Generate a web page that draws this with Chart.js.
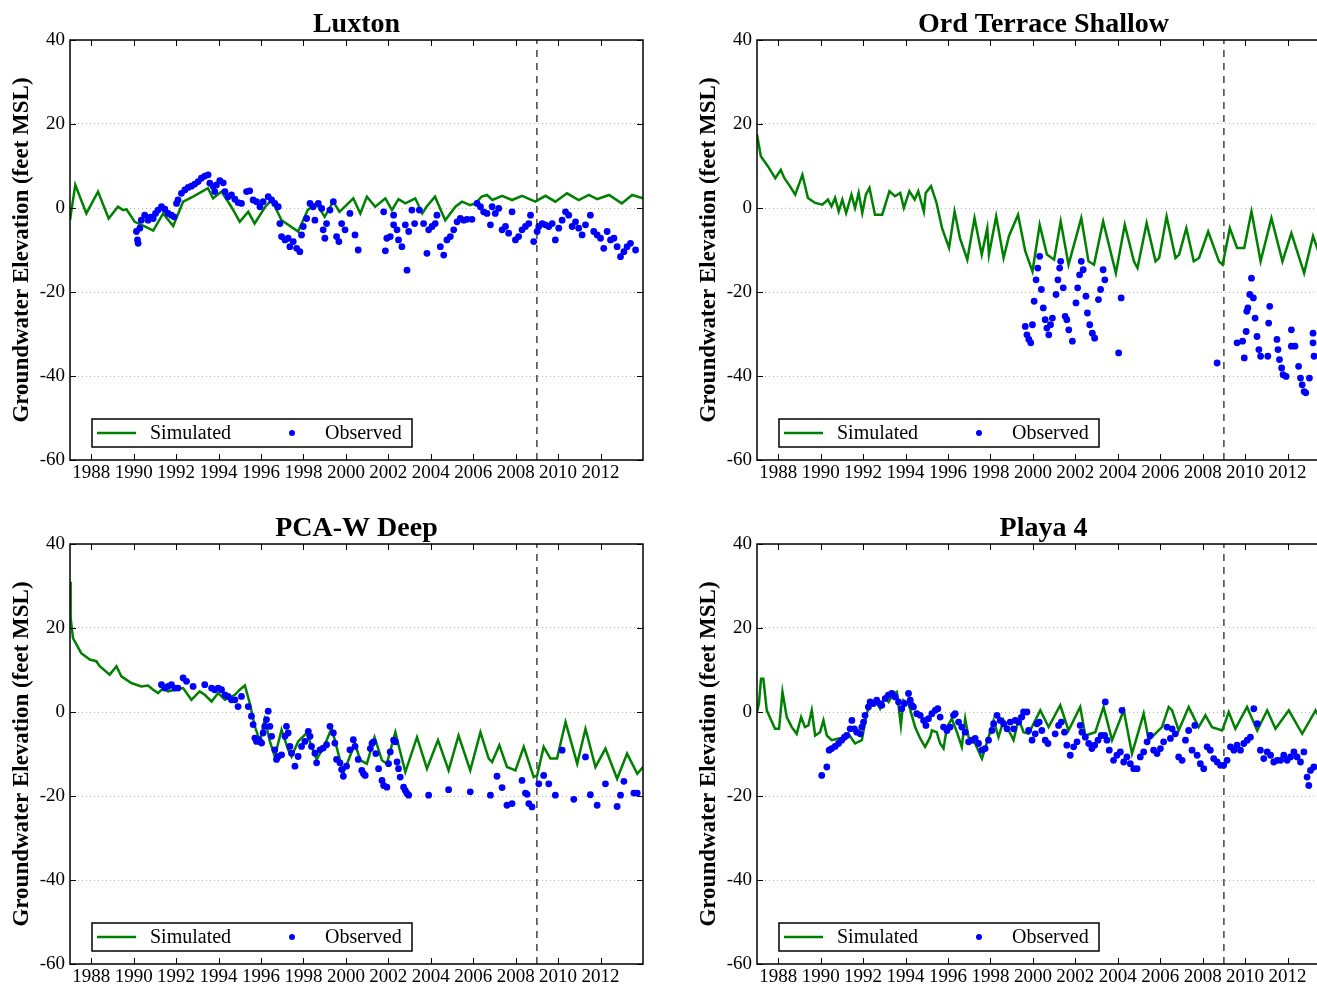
<!DOCTYPE html>
<html>
<head>
<meta charset="utf-8">
<title>Groundwater Elevation - Simulated vs Observed</title>
<script src="https://cdn.jsdelivr.net/npm/chart.js@4.4.1/dist/chart.umd.min.js"></script>
<style>
  html, body { margin: 0; padding: 0; background: #fff; overflow: hidden; }
  body { width: 1317px; height: 987px; position: relative; }
  canvas { position: absolute; }
  #chart-luxton { left: 0; top: 0; }
  #chart-ord { left: 687px; top: 0; }
  #chart-pca { left: 0; top: 504px; }
  #chart-playa { left: 687px; top: 504px; }
</style>
</head>
<body>
<canvas id="chart-luxton" width="660" height="490"></canvas>
<canvas id="chart-ord" width="660" height="490"></canvas>
<canvas id="chart-pca" width="660" height="490"></canvas>
<canvas id="chart-playa" width="660" height="490"></canvas>
<script>
// axes
const xTickLabels = [1988, 1990, 1992, 1994, 1996, 1998, 2000, 2002, 2004, 2006, 2008, 2010, 2012];
const yTickValues = [-60, -40, -20, 0, 20, 40];
const xRange = [1987, 2014];
const yRange = [-60, 40];
const predictionStartYear = 2009;
const yAxisTitle = 'Groundwater Elevation (feet MSL)';
const seriesNames = ['Simulated', 'Observed'];
const panelTitles = ['Luxton', 'Ord Terrace Shallow', 'PCA-W Deep', 'Playa 4'];

// Luxton
const luxtonSimYears = [
  1987.0, 1987.25, 1987.77, 1988.32, 1988.82, 1989.26, 1989.5, 1989.66,
  1990.05, 1990.52, 1990.92, 1991.39, 1991.86, 1992.33, 1992.8, 1993.5,
  1993.74, 1994.14, 1994.6, 1995.0, 1995.4, 1995.7, 1996.2, 1996.5,
  1996.97, 1997.75, 1998.2, 1998.6, 1999.0, 1999.4, 1999.7, 2000.35,
  2000.68, 2000.99, 2001.38, 2001.86, 2002.17, 2002.48, 2002.8, 2003.27,
  2003.6, 2003.8, 2004.2, 2004.68, 2005.16, 2005.47, 2005.86, 2006.1,
  2006.4, 2006.65, 2006.9, 2007.36, 2007.83, 2008.3, 2008.93, 2009.4,
  2009.87, 2010.42, 2010.97, 2011.45, 2011.84, 2012.4, 2013.0, 2013.49, 2014.0
];
const luxtonSimValues = [
  -2.9, 5.5, -1.3, 3.9, -2.5, 0.3, -0.5, -0.3,
  -3.3, -4.4, -5.4, -1.3, -4.3, 1.5, 2.7, 4.7,
  2.3, 3.9, 0.3, -3.3, -0.9, -3.7, 0.3, 1.9,
  -2.9, -5.6, -0.5, 1.1, -2.1, 1.5, -0.9, 2.3,
  -1.3, 2.7, 0.3, 2.3, -0.5, 2.1, 1.1, 2.3,
  -1.3, 0.3, 2.7, -2.9, 0.3, 1.5, 0.7, 1.1,
  2.7, 3.1, 1.9, 2.9, 1.9, 2.9, 1.5, 2.9,
  1.5, 3.5, 1.9, 3.1, 2.1, 3.1, 1.1, 3.1, 2.3
];
const luxtonObsYears = [
  1990.13, 1990.21, 1990.18, 1990.29, 1990.36, 1990.52, 1990.68, 1990.8,
  1990.92, 1991.03, 1991.15, 1991.31, 1991.47, 1991.62, 1991.78, 1991.9,
  1992.02, 1992.09, 1992.25, 1992.41, 1992.57, 1992.72, 1992.88, 1993.04,
  1993.19, 1993.35, 1993.51, 1993.59, 1993.75, 1993.82, 1993.9, 1994.06,
  1994.22, 1994.3, 1994.45, 1994.61, 1994.77, 1994.92, 1995.08, 1995.32,
  1995.47, 1995.63, 1995.79, 1995.95, 1996.1, 1996.34, 1996.5, 1996.65,
  1996.81, 1996.89, 1996.97, 1997.13, 1997.28, 1997.36, 1997.52, 1997.68,
  1997.83, 1997.91, 1997.99, 1998.15, 1998.31, 1998.46, 1998.54, 1998.7,
  1998.86, 1998.93, 1999.01, 1999.09, 1999.25, 1999.41, 1999.56, 1999.67,
  1999.8, 1999.96, 2000.19, 2000.43, 2000.58,
  2001.78, 2001.86, 2001.93, 2002.09, 2002.25, 2002.25, 2002.41, 2002.48,
  2002.64, 2002.8, 2002.88, 2002.96, 2003.11, 2003.24, 2003.46, 2003.66,
  2003.82, 2003.9, 2004.06, 2004.21, 2004.29, 2004.45, 2004.61, 2004.76,
  2004.92, 2005.08, 2005.24, 2005.39, 2005.55, 2005.71, 2005.94, 2006.18,
  2006.34, 2006.49, 2006.65, 2006.81, 2006.89, 2007.04, 2007.2, 2007.36,
  2007.52, 2007.67, 2007.83, 2007.99, 2008.14, 2008.3, 2008.46, 2008.62,
  2008.7, 2008.85, 2009.01, 2009.09, 2009.25, 2009.4, 2009.56, 2009.72,
  2009.87, 2010.03, 2010.19, 2010.35, 2010.5, 2010.66, 2010.82, 2010.97,
  2011.13, 2011.29, 2011.52, 2011.68, 2011.84, 2012.0, 2012.15, 2012.31,
  2012.47, 2012.63, 2012.78, 2012.94, 2013.1, 2013.25, 2013.41, 2013.65
];
const luxtonObsValues = [
  -5.6, -8.4, -7.6, -4.8, -2.9, -1.7, -2.9, -2.2,
  -2.5, -1.3, -0.5, 0.3, -0.3, -1.3, -1.7, -2.1,
  1.1, 1.9, 3.5, 4.3, 4.9, 5.2, 5.7, 6.3,
  7.1, 7.6, 7.9, 5.9, 5.1, 3.9, 5.5, 6.5,
  6.0, 3.9, 2.7, 3.1, 2.1, 1.3, 1.1, 3.9,
  4.1, 1.9, 1.5, 0.3, 1.5, 2.7, 1.9, 1.1,
  0.3, -3.7, -6.8, -7.6, -7.2, -9.2, -8.0, -9.6,
  -10.4, -6.4, -4.4, -2.5, 1.1, 0.3, -2.9, 1.1,
  -0.1, -5.2, -7.2, -3.7, -0.5, 1.5, -6.8, -8.0,
  -3.7, -5.2, -1.3, -6.4, -10.0,
  -0.9, -10.2, -7.2, -6.8, -1.7, -4.0, -5.2, -7.6,
  -9.2, -4.0, -14.8, -5.6, -0.5, -3.7, -0.5, -3.7,
  -10.8, -5.2, -4.4, -3.7, -1.7, -9.2, -11.2, -7.6,
  -6.8, -5.2, -3.3, -2.5, -2.9, -2.7, -2.7, 1.1,
  0.3, -0.9, -1.3, -4.0, 0.3, -1.3, -0.1, -5.2,
  -4.4, -6.0, -0.9, -7.6, -6.8, -5.2, -4.4, -3.7,
  -1.7, -8.0, -5.6, -4.4, -3.7, -4.0, -4.4, -3.7,
  -7.6, -4.8, -2.9, -0.9, -1.7, -4.4, -3.3, -4.8,
  -6.4, -4.0, -1.7, -5.6, -6.4, -7.2, -9.6, -5.6,
  -7.6, -7.2, -9.2, -11.6, -10.4, -9.2, -8.4, -10.0
];

// Ord Terrace Shallow
const ordSimYears = [
  1987.0, 1987.18, 1987.52, 1987.86, 1988.12, 1988.29, 1988.55, 1988.8,
  1989.14, 1989.4, 1989.74, 1990.08, 1990.34, 1990.51, 1990.68, 1990.85,
  1991.02, 1991.2, 1991.45, 1991.62, 1991.79, 1991.96, 1992.13, 1992.3,
  1992.56, 1992.9, 1993.24, 1993.5, 1993.75, 1993.92, 1994.18, 1994.43,
  1994.6, 1994.86, 1994.95, 1995.2, 1995.46, 1995.72, 1996.05, 1996.31,
  1996.56, 1996.91, 1997.25, 1997.59, 1997.85, 1997.93, 1998.27, 1998.62,
  1998.87, 1999.3, 1999.64, 1999.98, 2000.32, 2000.66, 2001.0, 2001.31,
  2001.68, 2002.28, 2002.62, 2002.88, 2003.31, 2003.91, 2004.33, 2004.76,
  2004.93, 2005.36, 2005.78, 2005.95, 2006.3, 2006.72, 2006.89, 2007.23,
  2007.58, 2007.83, 2008.26, 2008.77, 2008.94, 2009.28, 2009.62, 2009.96,
  2010.3, 2010.73, 2011.24, 2011.76, 2012.18, 2012.78, 2013.2, 2013.6, 2014.0
];
const ordSimValues = [
  17.5, 12.3, 9.9, 7.1, 9.1, 7.1, 5.2, 3.2,
  7.9, 2.4, 1.2, 0.8, 2.0, 0.4, 2.4, -0.8,
  2.0, -1.2, 3.2, 0.0, 3.6, -1.2, 3.2, 4.8,
  -1.6, -1.6, 4.0, 2.8, 3.6, 0.0, 4.0, 2.0,
  4.0, -0.8, 3.6, 5.2, 1.2, -4.8, -9.5, -0.8,
  -7.1, -12.3, -2.4, -11.1, -4.8, -11.1, -2.0, -11.9,
  -6.7, -1.6, -10.3, -15.1, -4.0, -11.1, -12.3, -3.2,
  -13.5, -2.4, -12.7, -13.5, -3.2, -15.5, -4.0, -12.7,
  -14.3, -3.6, -12.7, -11.9, -2.0, -11.9, -11.1, -4.8,
  -12.7, -11.9, -5.6, -12.7, -13.5, -4.8, -9.5, -9.5,
  -0.8, -12.7, -2.4, -12.7, -6.0, -15.5, -6.7, -12.5, -9.0
];
const ordObsYears = [
  1999.64, 1999.72, 1999.81, 1999.9, 1999.98, 2000.06, 2000.15, 2000.23,
  2000.32, 2000.4, 2000.49, 2000.58, 2000.66, 2000.75, 2000.83, 2000.92,
  2001.09, 2001.18, 2001.26, 2001.31, 2001.43, 2001.52, 2001.6, 2001.69,
  2001.86, 2002.03, 2002.11, 2002.2, 2002.28, 2002.37, 2002.5, 2002.57,
  2002.68, 2002.8, 2002.91, 2003.09, 2003.19, 2003.31, 2003.39, 2004.04,
  2004.16,
  2008.68, 2009.62, 2009.88, 2009.96, 2010.05, 2010.08, 2010.13, 2010.22,
  2010.3, 2010.39, 2010.47, 2010.56, 2010.65, 2010.73, 2011.07, 2011.11,
  2011.16, 2011.5, 2011.55, 2011.62, 2011.72, 2011.79, 2011.93, 2012.18,
  2012.18, 2012.35, 2012.52, 2012.61, 2012.69, 2012.78, 2012.86, 2013.03,
  2013.2, 2013.2, 2013.25
];
const ordObsValues = [
  -28.2, -30.2, -31.3, -32.1, -27.8, -22.2, -17.1, -14.3,
  -11.5, -19.4, -23.8, -26.6, -28.6, -30.2, -27.8, -26.2,
  -20.6, -17.1, -14.3, -12.7, -19.0, -25.8, -26.6, -29.0,
  -31.7, -22.6, -19.0, -15.9, -12.7, -14.7, -21.0, -25.0,
  -27.8, -29.8, -31.0, -21.8, -19.4, -14.7, -17.1, -34.5,
  -21.4,
  -36.9, -32.1, -31.7, -35.7, -29.4, -24.6, -23.8, -20.6,
  -16.7, -21.4, -26.2, -30.6, -33.7, -35.3, -35.3, -27.4,
  -23.4, -31.3, -33.7, -36.1, -38.1, -39.7, -40.1, -29.0,
  -32.9, -32.9, -37.7, -40.5, -42.1, -43.7, -44.0, -40.5,
  -29.8, -32.1, -35.3
];

// PCA-W Deep
const pcaSimYears = [
  1987.0, 1987.03, 1987.14, 1987.53, 1987.93, 1988.24, 1988.4, 1988.87,
  1989.19, 1989.42, 1989.89, 1990.36, 1990.68, 1990.92, 1991.15, 1991.39,
  1991.62, 1991.94, 1992.33, 1992.72, 1993.11, 1993.35, 1993.67, 1993.98,
  1994.3, 1994.77, 1995.0, 1995.24, 1995.47, 1995.71, 1995.95, 1996.18,
  1996.42, 1996.65, 1996.97, 1997.28, 1997.44, 1997.75, 1998.15, 1998.62,
  1999.01, 1999.33, 1999.88, 2000.43, 2000.68, 2000.99, 2001.35, 2001.7,
  2001.93, 2002.33, 2002.8, 2003.35, 2003.82, 2004.34, 2004.84, 2005.31,
  2005.86, 2006.34, 2006.73, 2006.89, 2007.23, 2007.59, 2007.99, 2008.38,
  2008.85, 2009.01, 2009.32, 2009.64, 2009.95, 2010.35, 2010.9, 2011.29,
  2011.76, 2012.23, 2012.78, 2013.25, 2013.73, 2014.0
];
const pcaSimValues = [
  31.0, 22.4, 17.6, 14.0, 12.5, 12.1, 10.9, 8.9,
  10.9, 8.5, 6.9, 6.1, 6.3, 5.3, 4.5, 5.7,
  4.9, 5.3, 5.7, 2.9, 4.9, 4.1, 2.5, 4.5,
  2.9, 4.1, 5.3, 6.3, 2.1, -3.4, -7.0, -1.8,
  -7.0, -10.6, -4.2, -9.0, -10.6, -7.0, -5.0, -11.3,
  -7.8, -3.8, -14.5, -7.5, -11.5, -12.3, -6.0, -11.5,
  -12.3, -4.8, -14.3, -6.0, -13.5, -6.7, -13.9, -5.6,
  -13.9, -4.8, -11.1, -11.9, -7.9, -13.1, -13.9, -8.3,
  -15.5, -15.1, -8.3, -11.1, -11.1, -2.4, -12.3, -4.0,
  -13.1, -8.7, -15.9, -9.9, -14.7, -13.1
];
const pcaObsYears = [
  1991.31, 1991.47, 1991.62, 1991.78, 1991.94, 1992.09, 1992.33, 1992.49,
  1992.8, 1993.35, 1993.67, 1993.82, 1993.98, 1994.14, 1994.3, 1994.45,
  1994.61, 1994.77, 1994.92, 1995.08, 1995.4, 1995.55, 1995.63, 1995.71,
  1995.79, 1995.87, 1995.95, 1996.03, 1996.1, 1996.18, 1996.26, 1996.34,
  1996.42, 1996.5, 1996.65, 1996.73, 1996.81, 1996.97, 1997.13, 1997.2,
  1997.28, 1997.36, 1997.44, 1997.6, 1997.75, 1997.91, 1998.07, 1998.23,
  1998.31, 1998.38, 1998.54, 1998.62, 1998.78, 1998.93, 1999.09, 1999.25,
  1999.41, 1999.48, 1999.56, 1999.72, 1999.8, 1999.88, 2000.03, 2000.19,
  2000.35, 2000.43, 2000.58,
  2000.75, 2000.83, 2000.91, 2001.15, 2001.23, 2001.3, 2001.41, 2001.54,
  2001.7, 2001.78, 2001.93, 2002.01, 2002.09, 2002.25, 2002.33, 2002.41,
  2002.48, 2002.56, 2002.72, 2002.8, 2002.88, 2002.96, 2003.9, 2004.84,
  2005.86, 2006.81, 2007.12, 2007.36, 2007.59, 2007.83, 2008.3, 2008.46,
  2008.54, 2008.62, 2008.77, 2009.09, 2009.32, 2009.56, 2009.87, 2010.19,
  2010.74, 2011.29, 2011.52, 2011.84, 2012.23, 2012.78, 2012.94, 2013.1,
  2013.57, 2013.73
];
const pcaObsValues = [
  6.5, 5.7, 6.1, 6.5, 5.7, 5.7, 8.1, 7.3,
  6.1, 6.5, 5.7, 5.3, 5.7, 5.3, 4.1, 3.7,
  2.9, 2.9, 1.3, 3.7, 1.3, -1.0, -3.0, -6.2,
  -7.0, -6.6, -7.0, -7.4, -5.0, -3.4, -1.8, 0.2,
  -3.4, -5.8, -9.0, -11.3, -10.6, -10.2, -5.8, -3.4,
  -5.0, -8.2, -9.8, -12.9, -10.6, -8.2, -7.0, -4.6,
  -5.8, -8.2, -9.8, -12.1, -9.0, -8.6, -7.8, -3.4,
  -5.0, -7.4, -11.3, -12.1, -13.7, -15.3, -12.9, -9.0,
  -6.6, -8.2, -11.3,
  -13.9, -14.7, -15.1, -8.7, -7.5, -7.1, -9.9, -13.5,
  -16.3, -17.5, -17.9, -12.3, -9.5, -6.7, -7.1, -11.9,
  -13.5, -15.5, -17.9, -18.7, -19.4, -19.8, -19.8, -18.5,
  -19.0, -19.8, -15.3, -18.0, -22.2, -21.8, -16.3, -19.3,
  -19.6, -21.8, -22.6, -17.1, -15.1, -17.1, -19.8, -9.1,
  -20.8, -10.7, -19.7, -22.2, -17.1, -22.5, -19.8, -16.5,
  -19.3, -19.3
];

// Playa 4
const playaSimYears = [
  1987.0, 1987.09, 1987.19, 1987.3, 1987.46, 1987.85, 1988.04, 1988.2,
  1988.4, 1988.64, 1988.87, 1989.08, 1989.26, 1989.42, 1989.58, 1989.74,
  1989.97, 1990.13, 1990.29, 1990.52, 1990.84, 1991.07, 1991.31, 1991.62,
  1991.94, 1992.17, 1992.33, 1992.57, 1992.8, 1993.04, 1993.2, 1993.43,
  1993.59, 1993.78, 1993.9, 1994.14, 1994.45, 1994.69, 1994.92, 1995.16,
  1995.24, 1995.47, 1995.63, 1995.79, 1995.95, 1996.18, 1996.42, 1996.65,
  1996.81, 1996.97, 1997.28, 1997.6, 1997.91, 1998.15, 1998.38, 1998.62,
  1998.86, 1999.09, 1999.33, 1999.56, 1999.8, 2000.03, 2000.35,
  2000.74, 2001.29, 2001.68, 2002.23, 2002.47, 2002.94, 2003.33, 2003.73,
  2004.28, 2004.67, 2005.22, 2005.46, 2006.08, 2006.4, 2006.56, 2006.87,
  2007.34, 2007.81, 2008.13, 2008.44, 2008.92, 2009.23, 2009.54, 2010.09,
  2010.57, 2011.04, 2011.43, 2012.06, 2012.69, 2013.32, 2013.7, 2014.0
];
const playaSimValues = [
  0.0, 2.0, 7.9, 7.9, 0.4, -4.0, -4.0, 4.8,
  -1.2, -3.6, -5.2, -1.2, -3.6, -3.2, 0.4, -5.6,
  -4.8, -2.0, -5.6, -6.7, -6.3, -6.7, -5.2, -7.5,
  -6.7, -0.4, 2.0, 2.8, 0.8, 3.6, 2.4, 4.4,
  4.8, -3.2, 2.8, 2.0, -3.6, -6.3, -8.3, -6.0,
  -4.4, -4.8, -7.5, -8.7, -3.6, -1.6, -4.8, -8.3,
  -1.6, -6.0, -7.5, -11.1, -6.0, -2.0, -6.0, -2.0,
  -4.4, -6.7, -1.6, -4.8, -5.2, -2.8, 0.4,
  -3.6, 1.6, -4.4, 1.2, -5.6, -4.8, 1.2, -6.7,
  0.4, -9.9, -0.4, -6.7, -3.6, 1.2, 0.4, -4.4,
  1.2, -3.6, -0.8, -3.6, -4.4, 0.0, -4.0, 1.2,
  -4.4, 0.4, -4.0, 0.4, -5.2, 0.4, -3.5, -1.0
];
const playaObsYears = [
  1990.05, 1990.29, 1990.4, 1990.52, 1990.68, 1990.84, 1990.99, 1991.12,
  1991.23, 1991.39, 1991.47, 1991.59, 1991.7, 1991.86, 1991.94, 1992.02,
  1992.09, 1992.25, 1992.33, 1992.49, 1992.64, 1992.8, 1992.88, 1993.04,
  1993.19, 1993.35, 1993.51, 1993.67, 1993.82, 1993.95, 1994.14, 1994.22,
  1994.3, 1994.37, 1994.53, 1994.69, 1994.85, 1994.96, 1995.08, 1995.24,
  1995.4, 1995.52, 1995.63, 1995.79, 1995.95, 1996.1, 1996.26, 1996.34,
  1996.5, 1996.65, 1996.81, 1996.97, 1997.13, 1997.28, 1997.44, 1997.6,
  1997.75, 1997.91, 1998.07, 1998.15, 1998.31, 1998.46, 1998.62, 1998.78,
  1998.93, 1999.09, 1999.17, 1999.33, 1999.48, 1999.56, 1999.72, 1999.8,
  1999.96, 2000.11,
  2000.19, 2000.3, 2000.42, 2000.58, 2000.71, 2001.05, 2001.21, 2001.34,
  2001.49, 2001.6, 2001.76, 2001.92, 2002.08, 2002.23, 2002.31, 2002.47,
  2002.63, 2002.78, 2002.91, 2003.07, 2003.22, 2003.38, 2003.41, 2003.49,
  2003.6, 2003.8, 2003.96, 2004.12, 2004.2, 2004.28, 2004.43, 2004.59,
  2004.75, 2004.91, 2005.06, 2005.22, 2005.38, 2005.53, 2005.69, 2005.85,
  2006.01, 2006.16, 2006.32, 2006.48, 2006.56, 2006.71, 2006.87, 2007.03,
  2007.19, 2007.34, 2007.5, 2007.63, 2007.74, 2007.89, 2008.05, 2008.21,
  2008.36, 2008.52, 2008.68, 2008.84, 2008.99, 2009.15, 2009.31, 2009.47,
  2009.62, 2009.78, 2009.94, 2010.1, 2010.25, 2010.41, 2010.57, 2010.72,
  2010.88, 2011.04, 2011.2, 2011.35, 2011.51, 2011.67, 2011.82, 2011.98,
  2012.14, 2012.3, 2012.45, 2012.61, 2012.77, 2012.92, 2013.0, 2013.08,
  2013.24
];
const playaObsValues = [
  -15.1, -13.1, -9.1, -8.7, -8.2, -7.5, -6.7, -6.0,
  -5.6, -4.0, -2.0, -4.0, -4.8, -5.2, -3.6, -2.4,
  -0.8, 1.2, 2.4, 2.0, 2.8, 2.0, 1.6, 3.2,
  4.0, 4.4, 3.6, 2.4, 0.8, 2.0, 4.4, 2.8,
  1.6, 1.2, -0.4, -0.8, -2.0, -3.2, -1.6, -0.4,
  0.4, 0.8, -1.2, -3.6, -4.4, -3.6, -0.8, -0.4,
  -2.4, -3.6, -4.8, -7.1, -6.7, -6.3, -7.5, -9.1,
  -8.7, -6.7, -4.4, -2.8, -0.8, -2.0, -2.8, -4.0,
  -2.4, -4.0, -2.0, -2.4, -1.2, 0.0, 0.0, -4.4,
  -6.7, -5.2,
  -2.8, -2.4, -4.4, -6.7, -7.5, -5.2, -3.2, -2.4,
  -4.8, -7.9, -10.3, -8.3, -7.1, -3.2, -4.8, -6.0,
  -7.5, -8.7, -7.9, -6.7, -5.6, -5.6, 2.4, -6.7,
  -9.1, -11.5, -10.3, -9.5, 0.4, -11.9, -10.7, -12.3,
  -13.5, -13.5, -10.7, -9.5, -7.1, -5.6, -9.1, -9.9,
  -8.7, -7.1, -3.6, -6.3, -4.0, -5.2, -10.7, -11.5,
  -6.7, -4.4, -9.1, -3.2, -10.3, -12.3, -13.5, -8.3,
  -9.1, -11.1, -11.9, -12.7, -12.7, -11.5, -8.3, -9.1,
  -7.9, -9.1, -7.5, -6.7, -6.0, 0.8, -2.8, -9.1,
  -11.1, -9.5, -10.3, -11.9, -11.5, -11.5, -10.3, -11.5,
  -10.7, -9.5, -10.7, -11.9, -9.5, -15.5, -17.5, -13.9,
  -13.1
];

const SIM_COLOR = '#008000';
const OBS_COLOR = '#0000ff';
const FONT_FAMILY = '"Liberation Serif", "DejaVu Serif", serif';

Chart.defaults.font.family = FONT_FAMILY;
Chart.defaults.color = '#000';

const toPoints = (xs, ys) => xs.map((x, i) => ({ x: x, y: ys[i] }));

// frame, inward tick marks and the boxed legend
const framePlugin = {
    id: 'frameAndLegend',
    afterDatasetsDraw(chart) {
        const { ctx, chartArea, scales } = chart;
        const { left, right, top, bottom } = chartArea;
        ctx.save();
        ctx.strokeStyle = '#000';
        ctx.lineWidth = 1;
        ctx.beginPath();
        scales.x.ticks.forEach(t => {
            const px = Math.round(scales.x.getPixelForValue(t.value)) + 0.5;
            ctx.moveTo(px, bottom); ctx.lineTo(px, bottom - 6);
            ctx.moveTo(px, top); ctx.lineTo(px, top + 6);
        });
        scales.y.ticks.forEach(t => {
            const py = Math.round(scales.y.getPixelForValue(t.value)) + 0.5;
            ctx.moveTo(left, py); ctx.lineTo(left + 6, py);
            ctx.moveTo(right, py); ctx.lineTo(right - 6, py);
        });
        ctx.stroke();
        ctx.lineWidth = 1.5;
        ctx.strokeRect(left, top, right - left, bottom - top);

        // legend box
        const bx = left + 22, by = bottom - 41, bw = 320, bh = 28;
        const cy = by + bh / 2;
        ctx.fillStyle = '#fff';
        ctx.fillRect(bx, by, bw, bh);
        ctx.strokeStyle = '#000';
        ctx.lineWidth = 1.5;
        ctx.strokeRect(bx, by, bw, bh);
        ctx.strokeStyle = SIM_COLOR;
        ctx.lineWidth = 2.5;
        ctx.beginPath();
        ctx.moveTo(bx + 5, cy); ctx.lineTo(bx + 44, cy);
        ctx.stroke();
        ctx.fillStyle = OBS_COLOR;
        ctx.beginPath();
        ctx.arc(bx + 200, cy, 3, 0, Math.PI * 2);
        ctx.fill();
        ctx.fillStyle = '#000';
        ctx.font = '20px ' + FONT_FAMILY;
        ctx.textBaseline = 'middle';
        ctx.fillText(seriesNames[0], bx + 58, cy + 1);
        ctx.fillText(seriesNames[1], bx + 233, cy + 1);
        ctx.restore();
    }
};

function buildPanel(canvasId, title, simYears, simValues, obsYears, obsValues) {
    const ctx = document.getElementById(canvasId).getContext('2d');
    return new Chart(ctx, {
        type: 'line',
        data: {
            datasets: [
                {
                    label: seriesNames[1],
                    type: 'scatter',
                    data: toPoints(obsYears, obsValues),
                    backgroundColor: OBS_COLOR,
                    borderWidth: 0,
                    pointRadius: 3.4,
                    order: 0
                },
                {
                    label: seriesNames[0],
                    data: toPoints(simYears, simValues),
                    borderColor: SIM_COLOR,
                    borderWidth: 2.5,
                    pointRadius: 0,
                    tension: 0,
                    fill: false,
                    order: 1
                },
                {
                    label: 'prediction start',
                    data: [{ x: predictionStartYear, y: yRange[0] }, { x: predictionStartYear, y: yRange[1] }],
                    borderColor: '#444',
                    borderWidth: 1.5,
                    borderDash: [7, 6],
                    pointRadius: 0,
                    order: 2
                }
            ]
        },
        options: {
            responsive: false,
            animation: false,
            devicePixelRatio: 1,
            layout: { padding: { left: 0, right: 17, top: 0, bottom: 0 } },
            plugins: {
                legend: { display: false },
                tooltip: { enabled: false },
                title: {
                    display: true,
                    text: title,
                    fullSize: false,
                    color: '#000',
                    font: { size: 28, weight: 'bold', lineHeight: 1.0 },
                    padding: { top: 11, bottom: 1 }
                }
            },
            scales: {
                x: {
                    type: 'linear',
                    min: xRange[0],
                    max: xRange[1],
                    afterBuildTicks: s => { s.ticks = xTickLabels.map(v => ({ value: v })); },
                    afterFit: s => { s.height = 30; },
                    grid: { display: false, drawTicks: false },
                    border: { display: false },
                    ticks: {
                        autoSkip: false,
                        maxRotation: 0,
                        padding: 2,
                        color: '#000',
                        font: { size: 19 },
                        callback: v => String(v)
                    }
                },
                y: {
                    type: 'linear',
                    min: yRange[0],
                    max: yRange[1],
                    afterBuildTicks: s => { s.ticks = yTickValues.map(v => ({ value: v })); },
                    afterFit: s => { s.width = 70; },
                    grid: { color: '#b4b4b4', lineWidth: 1, drawTicks: false },
                    border: { display: false, dash: [1, 3] },
                    ticks: { padding: 5, color: '#000', font: { size: 19 } },
                    title: {
                        display: true,
                        text: yAxisTitle,
                        color: '#000',
                        font: { size: 23, weight: 'bold' },
                        padding: { top: 8, bottom: 0 }
                    }
                }
            }
        },
        plugins: [framePlugin]
    });
}

document.addEventListener('DOMContentLoaded', () => {
    buildPanel('chart-luxton', panelTitles[0], luxtonSimYears, luxtonSimValues, luxtonObsYears, luxtonObsValues);
    buildPanel('chart-ord', panelTitles[1], ordSimYears, ordSimValues, ordObsYears, ordObsValues);
    buildPanel('chart-pca', panelTitles[2], pcaSimYears, pcaSimValues, pcaObsYears, pcaObsValues);
    buildPanel('chart-playa', panelTitles[3], playaSimYears, playaSimValues, playaObsYears, playaObsValues);
});
</script>
</body>
</html>
